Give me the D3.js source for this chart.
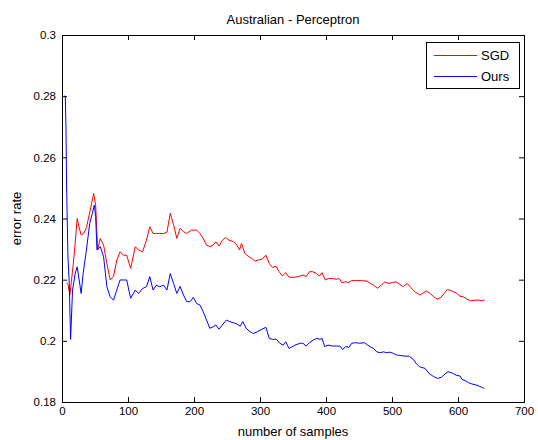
<!DOCTYPE html>
<html>
<head>
<meta charset="utf-8">
<script src="https://cdn.jsdelivr.net/npm/d3@7"></script>
<style>
  html, body { margin: 0; padding: 0; background: #fff; }
  svg { display: block; font-family: "Liberation Sans", Arial, Helvetica, sans-serif; }
</style>
</head>
<body>
<svg id="chart" width="538" height="440"></svg>
<script>
const chartTitle = "Australian - Perceptron";
const xLabel = "number of samples";
const yLabel = "error rate";
const xTicks = [0, 100, 200, 300, 400, 500, 600, 700];
const yTicks = [0.18, 0.2, 0.22, 0.24, 0.26, 0.28, 0.3];
const yTickLabels = ["0.18", "0.2", "0.22", "0.24", "0.26", "0.28", "0.3"];
const seriesNames = ["SGD", "Ours"];

const sgdSamples = [7, 9, 12, 14, 17, 20, 23, 26, 29, 33, 37, 41, 45, 48, 51, 54, 58, 63, 68, 73, 78, 83, 88, 93, 98, 104, 111, 116, 122, 128, 133, 138, 143, 148, 154, 159, 164, 169, 174, 179, 184, 189, 196, 204, 209, 214, 219, 224, 229, 233, 238, 243, 248, 253, 260, 265, 269, 272, 277, 282, 287, 292, 297, 303, 309, 314, 319, 324, 329, 334, 339, 344, 353, 361, 365, 370, 375, 380, 385, 390, 394, 399, 404, 410, 416, 420, 424, 429, 434, 439, 446, 454, 462, 467, 472, 478, 482, 487, 489, 494, 500, 506, 511, 517, 523, 528, 535, 542, 546, 552, 558, 563, 569, 574, 579, 584, 590, 597, 603, 608, 613, 619, 626, 632, 636, 640];
const sgdError = [0.2190, 0.2185, 0.2150, 0.2190, 0.2250, 0.2320, 0.2400, 0.2370, 0.2346, 0.2351, 0.2370, 0.2410, 0.2450, 0.2482, 0.2444, 0.2297, 0.2335, 0.2313, 0.2253, 0.2199, 0.2210, 0.2264, 0.2291, 0.2280, 0.2280, 0.2237, 0.2308, 0.2297, 0.2291, 0.2329, 0.2373, 0.2351, 0.2351, 0.2351, 0.2351, 0.2355, 0.2417, 0.2380, 0.2335, 0.2368, 0.2357, 0.2351, 0.2362, 0.2362, 0.2351, 0.2335, 0.2313, 0.2308, 0.2313, 0.2324, 0.2310, 0.2329, 0.2338, 0.2329, 0.2324, 0.2313, 0.2297, 0.2319, 0.2286, 0.2277, 0.2270, 0.2261, 0.2264, 0.2267, 0.2280, 0.2253, 0.2240, 0.2244, 0.2226, 0.2212, 0.2223, 0.2208, 0.2208, 0.2212, 0.2215, 0.2210, 0.2226, 0.2226, 0.2221, 0.2212, 0.2223, 0.2199, 0.2204, 0.2204, 0.2201, 0.2204, 0.2190, 0.2193, 0.2191, 0.2197, 0.2197, 0.2197, 0.2195, 0.2188, 0.2182, 0.2172, 0.2179, 0.2188, 0.2193, 0.2188, 0.2190, 0.2193, 0.2186, 0.2177, 0.2188, 0.2175, 0.2160, 0.2150, 0.2155, 0.2163, 0.2155, 0.2144, 0.2136, 0.2142, 0.2155, 0.2168, 0.2164, 0.2157, 0.2146, 0.2144, 0.2137, 0.2131, 0.2133, 0.2133, 0.2131, 0.2134];

const oursSamples = [3, 5, 6, 7, 9, 11, 13, 16, 20, 23, 26, 29, 32, 37, 42, 46, 49, 51, 53, 58, 63, 68, 73, 78, 83, 88, 93, 98, 104, 111, 116, 122, 128, 133, 138, 143, 148, 154, 159, 164, 169, 174, 179, 184, 189, 194, 199, 204, 209, 214, 219, 224, 229, 233, 238, 243, 249, 254, 260, 265, 270, 274, 279, 285, 290, 296, 303, 309, 314, 319, 325, 330, 335, 339, 344, 353, 361, 365, 370, 375, 381, 386, 391, 394, 398, 403, 410, 416, 421, 425, 430, 435, 439, 445, 451, 458, 463, 467, 472, 477, 482, 487, 492, 497, 502, 507, 512, 520, 526, 532, 537, 542, 550, 556, 563, 569, 575, 580, 585, 592, 597, 603, 606, 611, 616, 621, 627, 632, 637, 640];
const oursError = [0.2800, 0.2800, 0.2700, 0.2500, 0.2275, 0.2188, 0.2005, 0.2166, 0.2220, 0.2242, 0.2199, 0.2155, 0.2220, 0.2297, 0.2384, 0.2417, 0.2444, 0.2406, 0.2297, 0.2308, 0.2275, 0.2177, 0.2144, 0.2133, 0.2166, 0.2199, 0.2199, 0.2199, 0.2139, 0.2166, 0.2155, 0.2171, 0.2177, 0.2210, 0.2166, 0.2182, 0.2177, 0.2182, 0.2166, 0.2220, 0.2188, 0.2155, 0.2178, 0.2150, 0.2128, 0.2128, 0.2142, 0.2122, 0.2117, 0.2095, 0.2068, 0.2041, 0.2046, 0.2052, 0.2038, 0.2052, 0.2068, 0.2063, 0.2059, 0.2055, 0.2048, 0.2063, 0.2041, 0.2030, 0.2024, 0.2030, 0.2038, 0.2044, 0.2008, 0.2005, 0.2005, 0.1992, 0.1986, 0.1997, 0.1975, 0.1986, 0.1992, 0.1992, 0.1983, 0.1994, 0.2003, 0.2008, 0.2005, 0.2008, 0.1981, 0.1986, 0.1983, 0.1983, 0.1983, 0.1972, 0.1981, 0.1979, 0.1992, 0.1994, 0.1992, 0.1994, 0.1986, 0.1981, 0.1975, 0.1964, 0.1961, 0.1964, 0.1961, 0.1963, 0.1959, 0.1954, 0.1952, 0.1950, 0.1950, 0.1940, 0.1925, 0.1915, 0.1910, 0.1894, 0.1883, 0.1877, 0.1881, 0.1891, 0.1899, 0.1894, 0.1888, 0.1885, 0.1874, 0.1870, 0.1863, 0.1859, 0.1856, 0.1852, 0.1847, 0.1845];

const colors = ["#ff0000", "#0000ff"];

const svg = d3.select("#chart");
const mLeft = 62, mRight = 524, mTop = 35, mBottom = 402;

const x = d3.scaleLinear().domain([0, 700]).range([mLeft, mRight]);
const y = d3.scaleLinear().domain([0.18, 0.3]).range([mBottom, mTop]);

svg.append("rect").attr("x", mLeft).attr("y", mTop)
  .attr("width", mRight - mLeft).attr("height", mBottom - mTop).attr("fill", "#fff");

const series = [
  { name: seriesNames[0], xs: sgdSamples, ys: sgdError, color: colors[0] },
  { name: seriesNames[1], xs: oursSamples, ys: oursError, color: colors[1] }
];
const line = d3.line().x(d => x(d[0])).y(d => y(d[1]));
series.forEach(s => {
  svg.append("path")
    .datum(s.xs.map((v, i) => [v, s.ys[i]]))
    .attr("d", line)
    .attr("fill", "none")
    .attr("stroke", s.color)
    .attr("stroke-width", 1);
});

const tickFont = "11.5px";
const gx = svg.append("g").attr("transform", `translate(0,${mBottom})`)
  .call(d3.axisBottom(x).tickValues(xTicks).tickFormat(d3.format("d")).tickSizeInner(-5).tickSizeOuter(0).tickPadding(5));
const gxt = svg.append("g").attr("transform", `translate(0,${mTop})`)
  .call(d3.axisTop(x).tickValues(xTicks).tickFormat("").tickSizeInner(-5).tickSizeOuter(0));
const gy = svg.append("g").attr("transform", `translate(${mLeft},0)`)
  .call(d3.axisLeft(y).tickValues(yTicks).tickFormat((d, i) => yTickLabels[i]).tickSizeInner(-5).tickSizeOuter(0).tickPadding(6));
const gyr = svg.append("g").attr("transform", `translate(${mRight},0)`)
  .call(d3.axisRight(y).tickValues(yTicks).tickFormat("").tickSizeInner(-5).tickSizeOuter(0));
[gx, gxt, gy, gyr].forEach(g => {
  g.select(".domain").remove();
  g.selectAll("line").attr("stroke", "#000");
  g.selectAll("text").attr("fill", "#000").style("font-size", tickFont)
    .style("font-family", '"Liberation Sans", Arial, sans-serif');
});

svg.append("rect").attr("x", mLeft + 0.5).attr("y", mTop + 0.5)
  .attr("width", mRight - mLeft).attr("height", mBottom - mTop)
  .attr("fill", "none").attr("stroke", "#000").attr("stroke-width", 1);

svg.append("text").attr("x", (mLeft + mRight) / 2).attr("y", 24)
  .attr("text-anchor", "middle").style("font-size", "13px").text(chartTitle);
svg.append("text").attr("x", (mLeft + mRight) / 2).attr("y", 436)
  .attr("text-anchor", "middle").style("font-size", "13px").text(xLabel);
svg.append("text").attr("transform", `translate(21,${(mTop + mBottom) / 2}) rotate(-90)`)
  .attr("text-anchor", "middle").style("font-size", "13px").text(yLabel);

const lg = svg.append("g");
lg.append("rect").attr("x", 426.5).attr("y", 42.5).attr("width", 93).attr("height", 46)
  .attr("fill", "#fff").attr("stroke", "#000").attr("stroke-width", 1);
series.forEach((s, i) => {
  const ly = 55 + i * 21;
  lg.append("line").attr("x1", 434).attr("x2", 477).attr("y1", ly + 0.5).attr("y2", ly + 0.5)
    .attr("stroke", s.color).attr("stroke-width", 1);
  lg.append("text").attr("x", 481).attr("y", ly + 5).style("font-size", "13px").text(s.name);
});
</script>
</body>
</html>
